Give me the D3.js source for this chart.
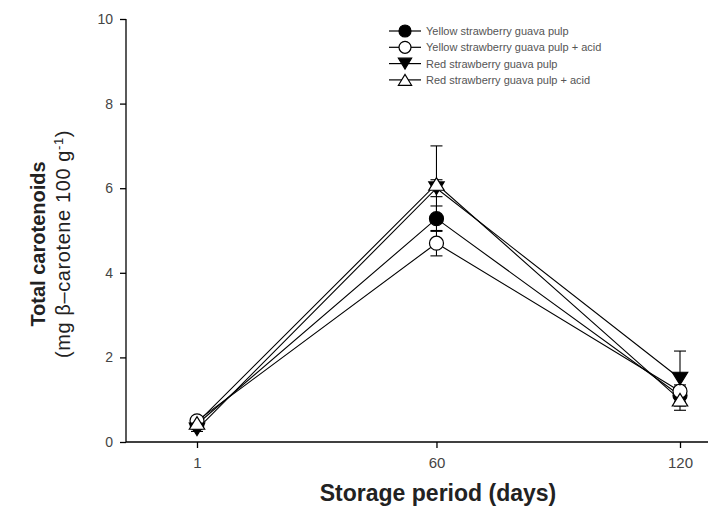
<!DOCTYPE html>
<html>
<head>
<meta charset="utf-8">
<script src="https://cdn.jsdelivr.net/npm/d3@7"></script>
<style>
  body { margin: 0; background: #fff; }
  text { font-family: "Liberation Sans", Arial, sans-serif; }
</style>
</head>
<body>
<div id="chart"></div>
<script>
// storage days and the four series (mean, error)
const days = [1, 60, 120];
const seriesNames = [
  'Yellow strawberry guava pulp',
  'Yellow strawberry guava pulp + acid',
  'Red strawberry guava pulp',
  'Red strawberry guava pulp + acid'
];
const yellowPulp = [0.42, 5.28, 1.1];
const yellowPulpErr = [0.05, 0.3, 0.15];
const yellowAcid = [0.5, 4.7, 1.2];
const yellowAcidErr = [0.05, 0.3, 0.15];
const redPulp = [0.3, 6.0, 1.5];
const redPulpErr = [0.05, 0.2, 0.65];
const redAcid = [0.45, 6.1, 1.0];
const redAcidErr = [0.05, 0.9, 0.25];
const yTicks = [0, 2, 4, 6, 8, 10];

const series = [
  { name: seriesNames[0], values: yellowPulp, err: yellowPulpErr, shape: 'circle', fill: '#000' },
  { name: seriesNames[1], values: yellowAcid, err: yellowAcidErr, shape: 'circle', fill: '#fff' },
  { name: seriesNames[2], values: redPulp, err: redPulpErr, shape: 'down', fill: '#000' },
  { name: seriesNames[3], values: redAcid, err: redAcidErr, shape: 'up', fill: '#fff' }
];

const W = 708, H = 510;
const svg = d3.select('#chart').append('svg')
  .attr('width', W).attr('height', H);

const x = d3.scaleLinear().domain([1, 120]).range([197, 680]);
const y = d3.scaleLinear().domain([0, 10]).range([442, 19]);
const x0 = 126, x1 = 708;

// axes
const yAxis = svg.append('g').attr('transform', `translate(${x0},0)`)
  .call(d3.axisLeft(y).tickValues(yTicks).tickSize(6).tickPadding(7));
yAxis.select('.domain').attr('d', `M0,${y(10)}V${y(0)}`);
yAxis.selectAll('text').attr('font-size', 14).attr('fill', '#444');

const xAxis = svg.append('g').attr('transform', `translate(0,${y(0)})`)
  .call(d3.axisBottom(x).tickValues(days).tickSize(6).tickPadding(9));
xAxis.select('.domain').attr('d', `M${x0},0H${x1}`);
xAxis.selectAll('text').attr('font-size', 15).attr('fill', '#444');
svg.selectAll('.domain, .tick line').attr('stroke', '#000').attr('stroke-width', 1.3);

// titles
svg.append('text')
  .attr('x', 438).attr('y', 501)
  .attr('text-anchor', 'middle')
  .attr('font-size', 23).attr('font-weight', 'bold').attr('fill', '#222')
  .text('Storage period (days)');

const yt = svg.append('g').attr('transform', 'translate(45,244) rotate(-90)');
yt.append('text')
  .attr('text-anchor', 'middle')
  .attr('font-size', 20).attr('font-weight', 'bold').attr('fill', '#222')
  .text('Total carotenoids');
const t2 = yt.append('text')
  .attr('y', 25)
  .attr('text-anchor', 'middle')
  .attr('font-size', 20).attr('letter-spacing', 0.6).attr('fill', '#222');
t2.append('tspan').text('(mg β–carotene 100 g');
t2.append('tspan').attr('dy', -7).attr('font-size', 13).text('-1');
t2.append('tspan').attr('dy', 7).text(')');

// marker path generator
function markerPath(shape, r) {
  if (shape === 'circle') return d3.symbol(d3.symbolCircle, Math.PI * r * r)();
  const h = r * 1.8, w = r * 1.1;
  if (shape === 'down') return `M${-w},${-h / 2}L${w},${-h / 2}L0,${h / 2}Z`;
  return `M${-w},${h / 2}L${w},${h / 2}L0,${-h / 2}Z`;
}

const line = d3.line().x((d, i) => x(days[i])).y(d => y(d));

series.forEach(s => {
  svg.append('path')
    .attr('d', line(s.values))
    .attr('fill', 'none').attr('stroke', '#000').attr('stroke-width', 1.1);
});

// error bars
series.forEach(s => {
  s.values.forEach((v, i) => {
    const cx = x(days[i]);
    const g = svg.append('g').attr('stroke', '#000').attr('stroke-width', 1.1);
    g.append('line').attr('x1', cx).attr('x2', cx).attr('y1', y(v - s.err[i])).attr('y2', y(v + s.err[i]));
    [v - s.err[i], v + s.err[i]].forEach(e => {
      g.append('line').attr('x1', cx - 6).attr('x2', cx + 6).attr('y1', y(e)).attr('y2', y(e));
    });
  });
});

// markers
series.forEach(s => {
  svg.selectAll(null).data(s.values).enter().append('path')
    .attr('transform', (d, i) => `translate(${x(days[i])},${y(d)})`)
    .attr('d', markerPath(s.shape, 7))
    .attr('fill', s.fill).attr('stroke', '#000').attr('stroke-width', 1.2);
});

// legend
const legend = svg.append('g').attr('transform', 'translate(389,31)');
series.forEach((s, i) => {
  const g = legend.append('g').attr('transform', `translate(0,${i * 16.3})`);
  g.append('line').attr('x1', 0).attr('x2', 32).attr('stroke', '#000').attr('stroke-width', 1.2);
  g.append('path').attr('transform', 'translate(16,0)')
    .attr('d', markerPath(s.shape, 6))
    .attr('fill', s.fill).attr('stroke', '#000').attr('stroke-width', 1.2);
  g.append('text').attr('x', 37).attr('y', 4)
    .attr('font-size', 11).attr('fill', '#555')
    .text(s.name);
});
</script>
</body>
</html>
